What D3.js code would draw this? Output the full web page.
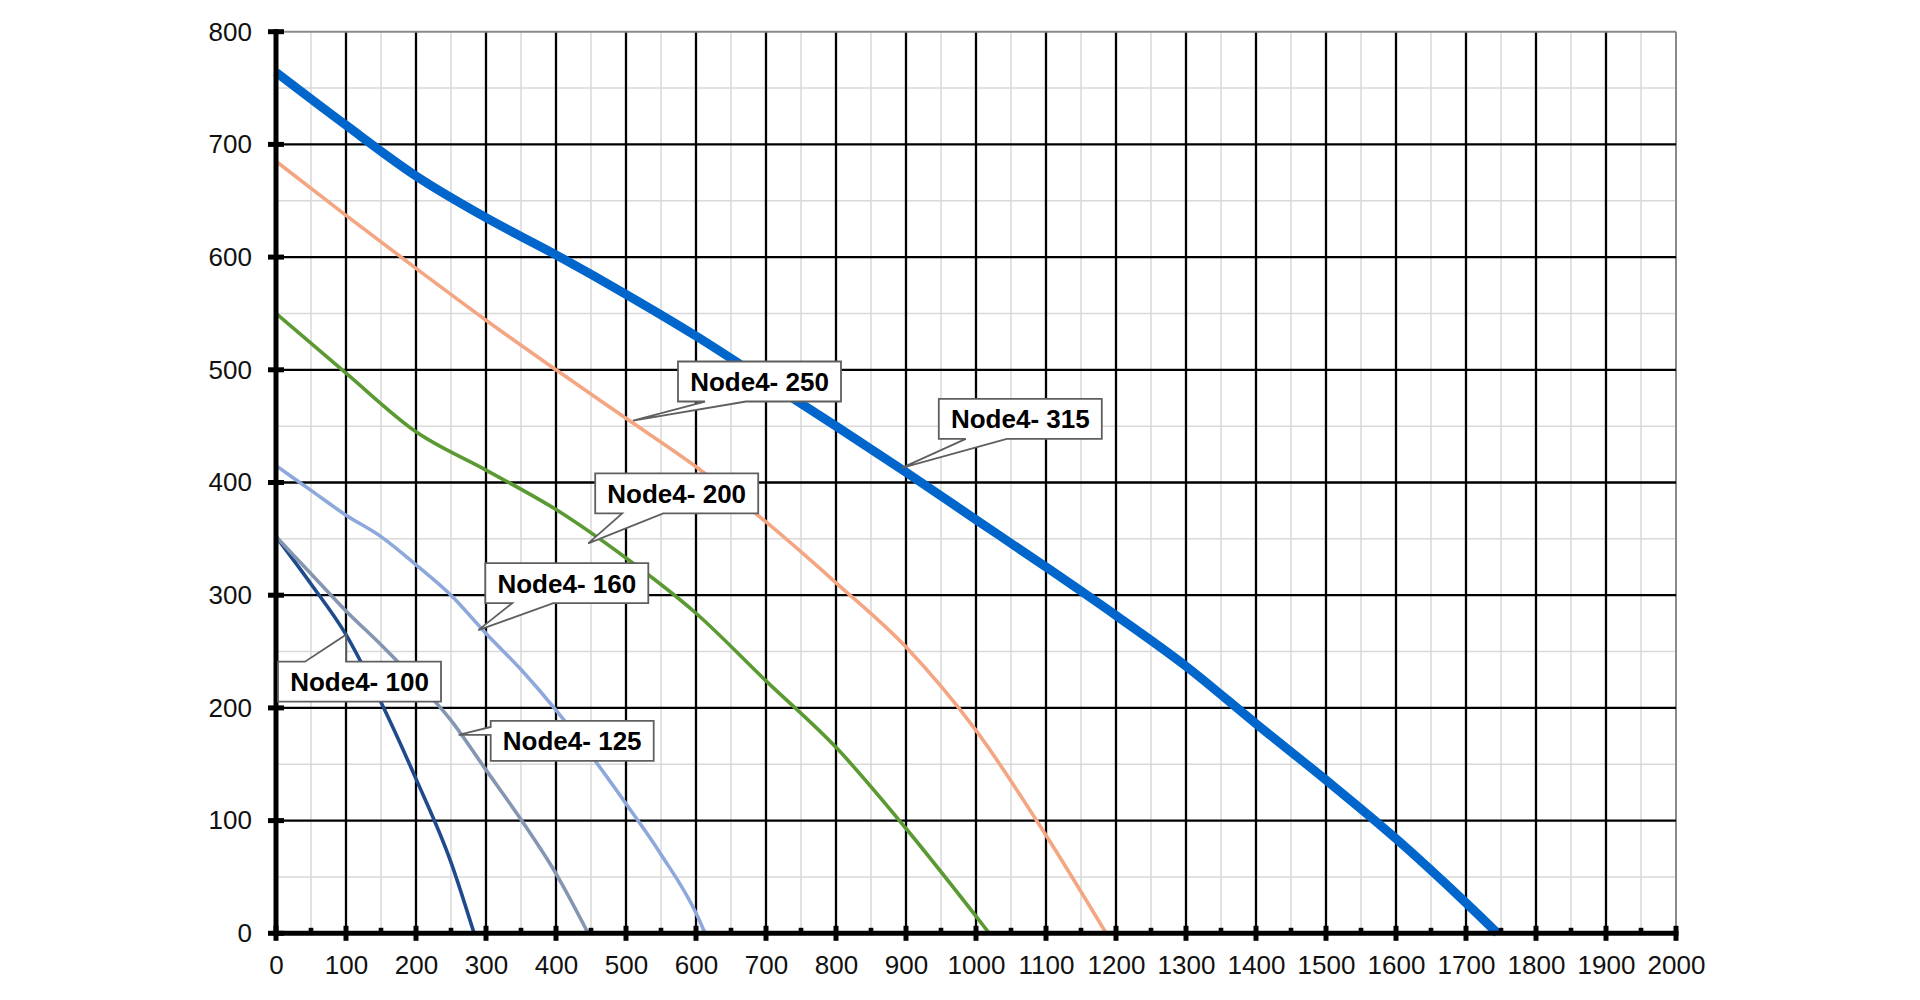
<!DOCTYPE html>
<html><head><meta charset="utf-8">
<script src="https://cdn.jsdelivr.net/npm/d3@7"></script>
<style>body{margin:0;background:#fff} svg{display:block}</style>
</head><body>
<svg id="chart" width="1920" height="1000"></svg>
<script>
// ---- data ----
const xTicks = d3.range(0, 2001, 100);
const yTicks = d3.range(0, 801, 100);
const xMinor = d3.range(50, 2000, 100);
const yMinor = d3.range(50, 800, 100);

const seriesNames = ["Node4- 100", "Node4- 125", "Node4- 160", "Node4- 200", "Node4- 250", "Node4- 315"];

const q100 = [0, 50, 100, 150, 200, 250, 283];
const h100 = [352, 310, 265, 205, 137, 63, 0];

const q125 = [0, 50, 100, 150, 200, 250, 300, 350, 400, 446];
const h125 = [352, 319, 286, 256, 224, 189, 145, 101, 53, 0];

const q160 = [0, 50, 100, 150, 200, 250, 300, 350, 400, 450, 500, 550, 600, 613];
const h160 = [415, 393, 371, 352, 327, 300, 266, 234, 198, 158, 115, 70, 18, 0];

const q200 = [0, 100, 200, 300, 400, 500, 600, 700, 800, 900, 1019];
const h200 = [550, 497, 445, 411, 376, 333, 284, 224, 165, 93, 0];

const q250 = [0, 100, 200, 300, 400, 500, 600, 700, 800, 900, 1000, 1100, 1186];
const h250 = [685, 637, 590, 544, 500, 457, 414, 365, 311, 254, 180, 87, 0];

const q315 = [0, 100, 200, 300, 400, 500, 600, 700, 800, 900, 1000, 1100, 1200, 1300, 1400, 1500, 1600, 1700, 1745];
const h315 = [764, 717, 672, 635, 602, 567, 530, 490, 450, 409, 367, 325, 282, 237, 186, 136, 84, 27, 0];

// label anchor points (data units, on the curves)
const labelTipQ = [100, 261, 289, 446, 510, 894];
const labelTipH = [265, 176, 269, 346, 455, 413];

// ---- styles / layout ----
const series = [
  {name: seriesNames[0], q: q100, h: h100, color: "#1F4A8C", width: 3.6},
  {name: seriesNames[1], q: q125, h: h125, color: "#8496B2", width: 3.6},
  {name: seriesNames[2], q: q160, h: h160, color: "#8EA8DC", width: 3.6},
  {name: seriesNames[3], q: q200, h: h200, color: "#5B9A32", width: 3.6},
  {name: seriesNames[4], q: q250, h: h250, color: "#F4A683", width: 3.6},
  {name: seriesNames[5], q: q315, h: h315, color: "#0066CC", width: 9}
];

// callout geometry (pixel offsets of box relative to tip, pointer side)
const callouts = [
  {dx: -68, dy: 27, side: "top"},
  {dx: 32, dy: -14, side: "left"},
  {dx: 7, dy: -67, side: "bottom"},
  {dx: 7, dy: -70, side: "bottom"},
  {dx: 45, dy: -59, side: "bottom"},
  {dx: 37, dy: -69, side: "bottom"}
];

const svg = d3.select("#chart");
const x = d3.scaleLinear().domain([0, 2000]).range([276, 1676]);
const y = d3.scaleLinear().domain([0, 800]).range([933.3, 31.7]);

const grid = svg.append("g");
// minor grid
grid.selectAll(".mvx").data(xMinor).enter().append("line")
  .attr("x1", d => x(d)).attr("x2", d => x(d)).attr("y1", y(0)).attr("y2", y(800))
  .attr("stroke", "#d9d9d9").attr("stroke-width", 1.5);
grid.selectAll(".mhy").data(yMinor).enter().append("line")
  .attr("y1", d => y(d)).attr("y2", d => y(d)).attr("x1", x(0)).attr("x2", x(2000))
  .attr("stroke", "#d9d9d9").attr("stroke-width", 1.5);
// major grid
grid.selectAll(".vx").data(xTicks.filter(d => d > 0)).enter().append("line")
  .attr("x1", d => x(d)).attr("x2", d => x(d)).attr("y1", y(0)).attr("y2", y(800))
  .attr("stroke", d => d === 2000 ? "#8a8a8a" : "#000").attr("stroke-width", d => d === 2000 ? 2 : 2.3);
grid.selectAll(".hy").data(yTicks.filter(d => d > 0)).enter().append("line")
  .attr("y1", d => y(d)).attr("y2", d => y(d)).attr("x1", x(0)).attr("x2", x(2000))
  .attr("stroke", d => d === 800 ? "#8a8a8a" : "#000").attr("stroke-width", d => d === 800 ? 2 : 2.3);

// curves
const line = d3.line().x(d => x(d[0])).y(d => y(d[1])).curve(d3.curveMonotoneX);
svg.append("g").selectAll("path").data(series).enter().append("path")
  .attr("d", s => line(s.q.map((q, i) => [q, s.h[i]])))
  .attr("fill", "none").attr("stroke", s => s.color).attr("stroke-width", s => s.width)
  .attr("stroke-linejoin", "round");

// axes
const font = "'Liberation Sans', Arial, sans-serif";
const gx = svg.append("g").attr("transform", `translate(0,${y(0)})`)
  .call(d3.axisBottom(x).tickValues(xTicks).tickFormat(d3.format("d")).tickSize(0).tickPadding(22));
const gy = svg.append("g").attr("transform", `translate(${x(0)},0)`)
  .call(d3.axisLeft(y).tickValues(yTicks).tickFormat(d3.format("d")).tickSize(0).tickPadding(24));
[gx, gy].forEach(g => {
  g.select(".domain").remove();
  g.selectAll("text").attr("font-family", font).attr("font-size", 26).attr("fill", "#111");
});

// thick axis lines
svg.append("line").attr("x1", x(0)).attr("x2", x(0)).attr("y1", y(800) - 2.5).attr("y2", y(0) + 2.5)
  .attr("stroke", "#000").attr("stroke-width", 5);
svg.append("line").attr("x1", x(0) - 2.5).attr("x2", x(2000) + 2.5).attr("y1", y(0)).attr("y2", y(0))
  .attr("stroke", "#000").attr("stroke-width", 5);
// y major ticks
svg.append("g").selectAll("rect").data(yTicks).enter().append("rect")
  .attr("x", x(0) - 8).attr("width", 16).attr("y", d => y(d) - 2.5).attr("height", 5).attr("fill", "#000");
// x major ticks
svg.append("g").selectAll("rect").data(xTicks).enter().append("rect")
  .attr("x", d => x(d) - 2.5).attr("width", 5).attr("y", y(0) - 7.5).attr("height", 15).attr("fill", "#000");
// x minor ticks
svg.append("g").selectAll("rect").data(xMinor).enter().append("rect")
  .attr("x", d => x(d) - 2.3).attr("width", 4.6).attr("y", y(0) - 5.5).attr("height", 6).attr("fill", "#000");

// callouts
const BW = 163, BH = 40;
const ann = svg.append("g");
series.forEach((s, i) => {
  const tx = x(labelTipQ[i]), ty = y(labelTipH[i]);
  const c = callouts[i];
  const L = tx + c.dx, T = ty + c.dy, R = L + BW, B = T + BH;
  let p;
  if (c.side === "bottom") {
    p = `M${L},${T}L${R},${T}L${R},${B}L${L + 68},${B}L${tx},${ty}L${L + 27},${B}L${L},${B}Z`;
  } else if (c.side === "top") {
    p = `M${L},${T}L${L + 27},${T}L${tx},${ty}L${L + 68},${T}L${R},${T}L${R},${B}L${L},${B}Z`;
  } else {
    p = `M${L},${T}L${R},${T}L${R},${B}L${L},${B}L${L},${ty}L${tx},${ty}L${L},${T + 6}Z`;
  }
  ann.append("path").attr("d", p).attr("fill", "#fff").attr("stroke", "#5f5f5f").attr("stroke-width", 1.8)
    .attr("stroke-linejoin", "miter");
  ann.append("text").attr("x", L + BW / 2).attr("y", T + BH / 2 + 9.5)
    .attr("text-anchor", "middle").attr("font-family", font).attr("font-weight", "bold")
    .attr("font-size", 26).attr("fill", "#000").text(s.name);
});
</script>
</body></html>
